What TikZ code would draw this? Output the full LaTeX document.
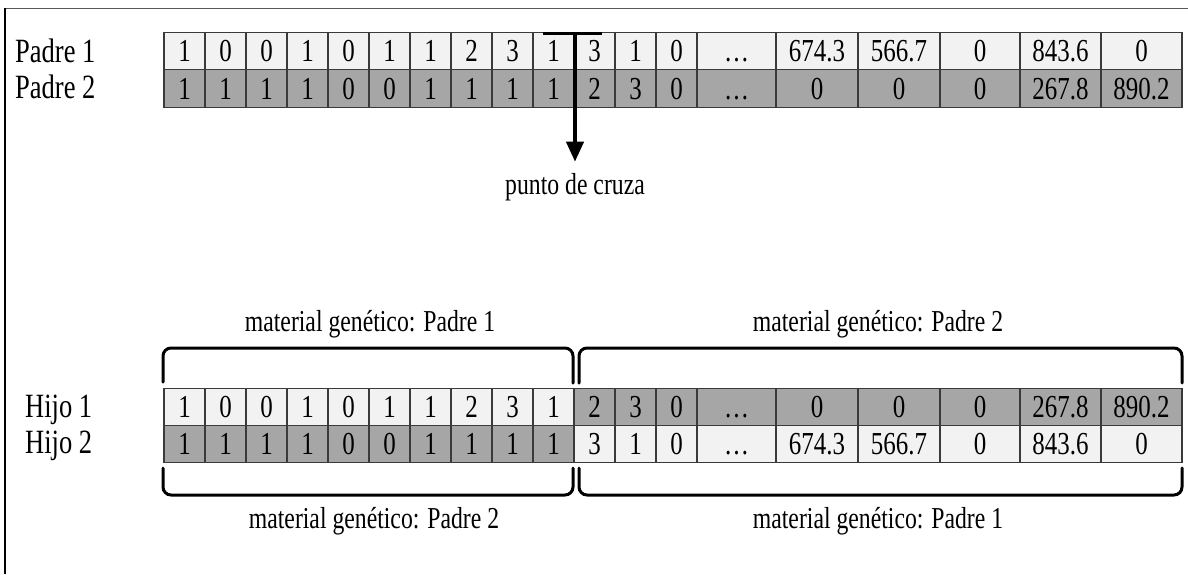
\documentclass[tikz,border=0pt]{standalone}
\usepackage{fontspec}
\setmainfont{Liberation Serif}[FakeStretch=0.78]
\usetikzlibrary{arrows.meta}
\definecolor{cellLight}{HTML}{F2F2F2}
\definecolor{cellDark}{HTML}{A6A6A6}
\definecolor{gridLine}{HTML}{3A3A3A}
\tikzset{
  cell/.style={draw=gridLine, line width=1.1pt, inner sep=0pt,
    minimum height=37.5pt, text height=21.6pt, text depth=0pt,
    font=\fontsize{32}{36}\selectfont},
  light/.style={cell, fill=cellLight},
  dark/.style={cell, fill=cellDark},
  rowlabel/.style={anchor=base west, inner sep=0pt, font=\fontsize{34}{40}\selectfont},
  caption/.style={anchor=base, inner sep=0pt, font=\fontsize{30.4}{36}\selectfont},
  bracket/.style={line width=3pt, rounded corners=8pt, line cap=round}
}
\begin{document}
\begin{tikzpicture}[x=1pt, y=-1pt]
\useasboundingbox (0,0) rectangle (1188,574);

% frame
\draw[line width=1.3pt, black!65] (5,8.5) -- (1188,8.5);
\draw[line width=1.7pt, black] (5,8) -- (5,574);

% row labels
\node[rowlabel] (lp1) at (15,62) {Padre 1};
\node[rowlabel] (lp2) at (15,98) {Padre 2};
\node[rowlabel] (lh1) at (25,417) {Hijo 1};
\node[rowlabel] (lh2) at (25,453) {Hijo 2};

% chromosome cells: centre / width / Padre 1 gene / Padre 2 gene
\foreach \x/\w/\a/\b [count=\i] in {
  184.5/41/1/1, 225.5/41/0/1, 266.5/41/0/1, 307.5/41/1/1, 348.5/41/0/0,
  389.5/41/1/0, 430.5/41/1/1, 471.5/41/2/1, 512.5/41/3/1, 553.5/41/1/1,
  594.5/41/3/2, 635.5/41/1/3, 676.5/41/0/0, 736.5/79/\ldots/\ldots,
  817/82/674.3/0, 899/82/566.7/0, 980/80/0/0, 1060.5/81/843.6/267.8,
  1141.5/81/0/890.2}
{
  \ifnum\i<11 \def\hA{light}\def\hB{dark}\else\def\hA{dark}\def\hB{light}\fi
  \node[light, minimum width=\w pt] (p1-\i) at (\x,51) {\a};
  \node[dark,  minimum width=\w pt] (p2-\i) at (\x,88.5) {\b};
  \node[\hA,   minimum width=\w pt] (h1-\i) at (\x,407) {\ifnum\i<11 \a\else\b\fi};
  \node[\hB,   minimum width=\w pt] (h2-\i) at (\x,444) {\ifnum\i<11 \b\else\a\fi};
}

% crossover point marker
\coordinate (barL) at (543,33.5);
\coordinate (barR) at (602,33.5);
\coordinate (barM) at (575,33.5);
\node[caption] (cruza) at (575,194) {punto de cruza};
\draw[line width=3.5pt] (barL) -- (barR);
\draw[line width=4pt, -{Triangle[width=17pt,length=20pt]}, shorten >=11pt]
  (barM) -- (cruza.north);

% brackets above the offspring
\draw[bracket] (163,382) -- (163,348) -- (573,348) -- (573,383);
\draw[bracket] (579,383) -- (579,348) -- (1182,348) -- (1182,383);
\node[caption] (g11) at (370,331) {material genético: Padre 1};
\node[caption] (g12) at (878,331) {material genético: Padre 2};

% brackets below the offspring
\draw[bracket] (163,468) -- (163,495) -- (573,495) -- (573,468);
\draw[bracket] (579,468) -- (579,495) -- (1182,495) -- (1182,468);
\node[caption] (g22) at (374,528) {material genético: Padre 2};
\node[caption] (g21) at (878,528) {material genético: Padre 1};
\end{tikzpicture}
\end{document}
